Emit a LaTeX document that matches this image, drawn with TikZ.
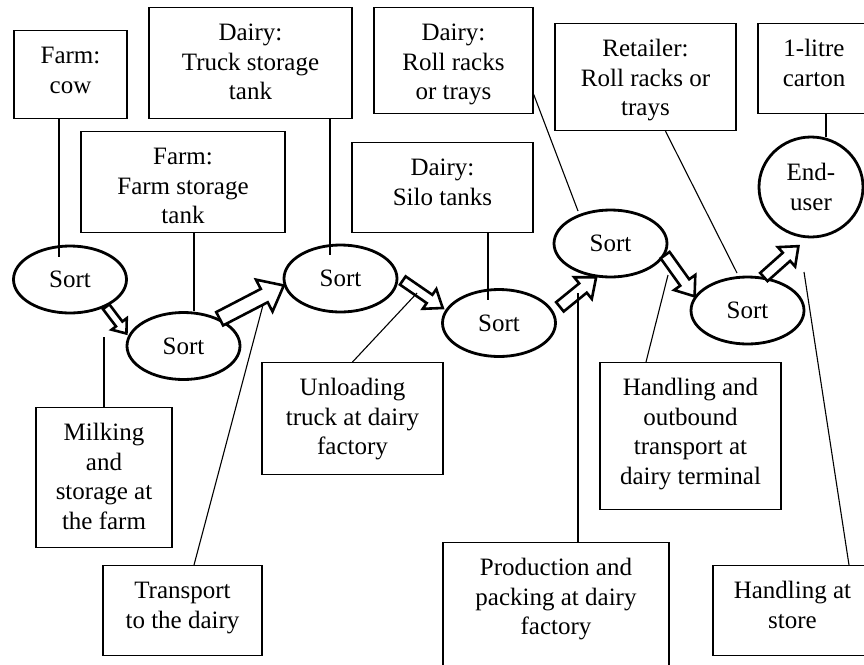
\documentclass[tikz,border=0pt]{standalone}
\usepackage{fontspec}
\setmainfont{Liberation Serif}
\usetikzlibrary{shapes.geometric,calc}

% text box: name, top centre, width, height, text (first baseline 33pt down)
\newcommand\infobox[5]{%
  \node[infobox, minimum width=#3pt, minimum height=#4pt] (#1) at (#2)
    {\parbox[c][#4pt][t]{#3pt}{\centering\rule{0pt}{33pt}#5}};
}

% hollow block arrow: tail, tip, half shaft, half head, head length
\newcommand\flowarrow[5]{%
  \coordinate (fa) at (#1);
  \coordinate (fb) at (#2);
  \coordinate (fh) at ($(fb)!#5!(fa)$);
  \draw[hollow] ($(fa)!#3!90:(fb)$) -- ($(fh)!#3!90:(fb)$) -- ($(fh)!#4!90:(fb)$)
    -- (fb) -- ($(fh)!#4!-90:(fb)$) -- ($(fh)!#3!-90:(fb)$) -- ($(fa)!#3!-90:(fb)$) -- cycle;
}

\begin{document}
\begin{tikzpicture}[x=1pt, y=-1pt,
  font=\fontsize{25}{29.5}\selectfont,
  infobox/.style={draw, line width=1.2pt, inner sep=0pt, anchor=north},
  sortnode/.style={ellipse, draw, line width=2.8pt, fill=white, inner sep=0pt,
    minimum width=113pt, minimum height=67pt, align=center},
  hollow/.style={draw, fill=white, line width=2.6pt, line join=miter},
  link/.style={line width=1.1pt}]
  \useasboundingbox (0,0) rectangle (864,664);
  \clip (0,0) rectangle (864,664);

  % packaging / storage boxes along the top
  \infobox{cow}{70.5,30}{113}{88}{Farm:\\ cow}
  \infobox{truck}{250.5,7}{203}{111}{Dairy:\\ Truck storage\\ tank}
  \infobox{farmtank}{183,131}{204}{101}{Farm:\\ Farm storage\\ tank}
  \infobox{rollracks}{453.5,7}{159}{106}{Dairy:\\ Roll racks\\ or trays}
  \infobox{silo}{442.5,142}{181}{90}{Dairy:\\ Silo tanks}
  \infobox{retailer}{645.5,23}{181}{107}{Retailer:\\ Roll racks or\\ trays}
  \infobox{carton}{814,23}{112}{90}{1-litre\\ carton}

  % activity boxes along the bottom
  \infobox{milking}{104,407}{136}{140}{Milking\\ and\\ storage at\\ the farm}
  \infobox{transport}{182.5,565}{159}{90}{Transport\\ to the dairy}
  \infobox{unloading}{352.5,362}{181}{112}{Unloading\\ truck at dairy\\ factory}
  \infobox{outbound}{690.5,362}{181}{147}{Handling and\\ outbound\\ transport at\\ dairy terminal}
  \infobox{production}{556,542}{226}{130}{Production and\\ packing at dairy\\ factory}
  \infobox{store}{792.5,565}{159}{90}{Handling at\\ store}

  % sort points
  \node[sortnode] (s1) at (70,279.5) {Sort};
  \node[sortnode] (s2) at (183.5,346) {Sort};
  \node[sortnode] (s3) at (340.5,278.5) {Sort};
  \node[sortnode] (s4) at (499,323) {Sort};
  \node[sortnode] (s5) at (610.5,243.5) {Sort};
  \node[sortnode] (s6) at (747.5,310.5) {Sort};
  \node[sortnode, minimum width=104pt, minimum height=100pt] (eu) at (811,187) {End-\\user};

  % flow between the sort points
  \flowarrow{s1.-37}{$(s2.167)+(-3,0)$}{4pt}{9.5pt}{12pt}
  \flowarrow{s2.37}{s3.187}{7.5pt}{18pt}{22pt}
  \flowarrow{$(s3.-5)+(5,-3)$}{$(s4.164)+(-4,0)$}{5pt}{12pt}{16pt}
  \flowarrow{$(s4.15)+(8,-2)$}{s5.247}{6pt}{14pt}{17pt}
  \flowarrow{s5.-12}{s6.165}{5.5pt}{13pt}{17pt}
  \flowarrow{s6.64}{$(eu.257)+(-1,9)$}{5.5pt}{13pt}{16pt}

  % leader lines
  \coordinate (c1) at (59,257);
  \coordinate (c2) at (194,311);
  \coordinate (c3) at (330,255);
  \coordinate (c4) at (488,300);
  \coordinate (c5) at (578,211);
  \coordinate (c6) at (737,273);
  \coordinate (c7) at (826,137);
  \coordinate (c8) at (104,337);
  \coordinate (c9) at (263,305);
  \coordinate (c10) at (417,293);
  \coordinate (c11) at (578,293);
  \coordinate (c12) at (668,275);
  \coordinate (c13) at (804,272);
  \draw[link] (cow.south -| c1) -- (c1);
  \draw[link] (farmtank.south -| c2) -- (c2);
  \draw[link] (truck.south -| c3) -- (c3);
  \draw[link] (silo.south -| c4) -- (c4);
  \draw[link] ([yshift=20pt]rollracks.south east) -- (c5);
  \draw[link] ([xshift=20pt]retailer.south) -- (c6);
  \draw[link] (carton.south -| c7) -- (c7);
  \draw[link] (milking.north) -- (c8);
  \draw[link] ([xshift=11.5pt]transport.north) -- (c9);
  \draw[link] (unloading.north) -- (c10);
  \draw[link] ([xshift=22pt]production.north) -- (c11);
  \draw[link] ([xshift=-44.5pt]outbound.north) -- (c12);
  \draw[link] ([xshift=56.5pt]store.north) -- (c13);
\end{tikzpicture}
\end{document}
